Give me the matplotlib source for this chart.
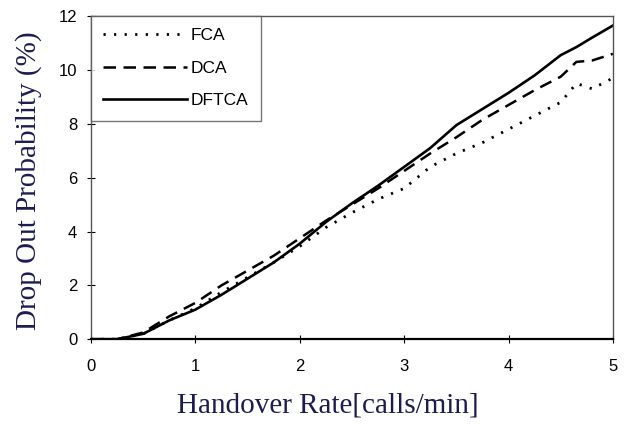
import matplotlib
matplotlib.use('Agg')
import matplotlib.pyplot as plt

# values
rate = [0, 0.25, 0.5, 0.75, 1.0, 1.25, 1.5, 1.75, 2.0, 2.25, 2.5, 2.75,
        3.0, 3.25, 3.5, 3.75, 4.0, 4.25, 4.5, 4.65, 4.8, 5.0]
fca = [0, 0, 0.2, 0.7, 1.15, 1.75, 2.3, 2.85, 3.45, 4.15, 4.7, 5.2,
       5.6, 6.4, 6.9, 7.3, 7.8, 8.3, 8.8, 9.5, 9.3, 9.7]
dca = [0, 0, 0.25, 0.85, 1.35, 2.0, 2.55, 3.1, 3.75, 4.4, 5.0, 5.6,
       6.25, 6.9, 7.5, 8.15, 8.7, 9.25, 9.75, 10.3, 10.35, 10.6]
dftca = [0, 0, 0.2, 0.7, 1.1, 1.65, 2.25, 2.85, 3.55, 4.35, 5.05, 5.7,
         6.4, 7.1, 7.95, 8.55, 9.15, 9.8, 10.55, 10.85, 11.2, 11.65]

xticks = [0, 1, 2, 3, 4, 5]
yticks = [0, 2, 4, 6, 8, 10, 12]

label_color = '#1c1c50'

fig = plt.figure(figsize=(6.28, 4.24), dpi=100)
ax = fig.add_axes([0.145, 0.2, 0.831, 0.762])

ax.plot(rate, fca, color='black', lw=2.0, linestyle=(0, (0.8, 3)), label='FCA')
ax.plot(rate, dca, color='black', lw=1.8, linestyle=(0, (5, 3)), label='DCA')
ax.plot(rate, dftca, color='black', lw=1.9, linestyle='-', label='DFTCA')

ax.set_xlim(0, 5)
ax.set_ylim(0, 12)
ax.set_xticks(xticks)
ax.set_yticks(yticks)
ax.tick_params(direction='inout', length=6, width=0.8, labelsize=12, pad=7)
for lab in ax.get_xticklabels() + ax.get_yticklabels():
    lab.set_fontfamily('Liberation Sans')
ax.tick_params(axis='x', pad=11)

for s in ax.spines.values():
    s.set_color('#555555')
    s.set_linewidth(1.0)
ax.spines['bottom'].set_color('black')
ax.spines['bottom'].set_linewidth(1.6)

ax.set_xlabel('Handover Rate[calls/min]', fontfamily='Liberation Serif',
              fontsize=21, color=label_color)
ax.set_ylabel('Drop Out Probability (%)', fontfamily='Liberation Serif',
              fontsize=21, color=label_color)
ax.xaxis.set_label_coords(0.454, -0.165)
ax.yaxis.set_label_coords(-0.094, 0.49)

leg = ax.legend(loc='upper left', bbox_to_anchor=(0, 1), frameon=True,
                fancybox=False, handlelength=4.8, handletextpad=0.25,
                borderaxespad=0, borderpad=0.7, labelspacing=1.0,
                prop={'family': 'Liberation Sans', 'size': 12.5})
leg.get_frame().set_edgecolor('#555555')
leg.get_frame().set_linewidth(1.0)

fig.savefig('out.png', dpi=100)
